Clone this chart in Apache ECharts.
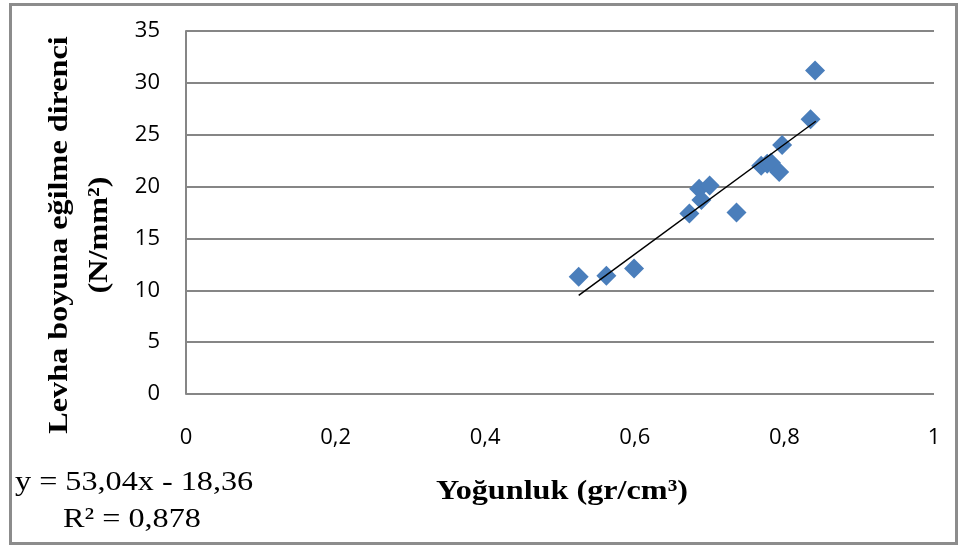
<!DOCTYPE html>
<html>
<head>
<meta charset="utf-8">
<script src="https://cdn.jsdelivr.net/npm/echarts@6/dist/echarts.min.js"></script>
<style>
  html, body { margin: 0; padding: 0; background: #fff; }
  #chart { width: 961px; height: 545px; }
</style>
</head>
<body>
<div id="chart"></div>
<script>
// veri: yoğunluk (gr/cm³) ve levha boyuna eğilme direnci (N/mm²)
const density = [0.525, 0.562, 0.599, 0.673, 0.686, 0.700, 0.689, 0.736, 0.769, 0.777, 0.782, 0.793, 0.797, 0.835, 0.841]
const strength = [11.3, 11.4, 12.1, 17.4, 19.8, 20.1, 18.7, 17.5, 22.0, 22.2, 22.3, 21.4, 24.0, 26.5, 31.2]

// trend çizgisi uç noktaları (y = 53,04x - 18,36)
const trendX = [0.525, 0.842]
const trendY = [9.5, 26.3]

const xTicks = ['0', '0,2', '0,4', '0,6', '0,8', '1']
const xTitle = 'Yoğunluk (gr/cm³)'
const yTitle = 'Levha boyuna eğilme direnci\n(N/mm²)'
const equationText = 'y = 53,04x - 18,36'
const r2Text = 'R² = 0,878'

const serif = '"Liberation Serif", "DejaVu Serif", serif'
const sans = '"Open Sans", "Noto Sans", sans-serif'
// referanstaki yazılar yatayda biraz gerilmiş
const stretch = 1.15

const chart = echarts.init(document.getElementById('chart'))

chart.setOption({
  animation: false,
  grid: { left: 186, right: 27, top: 31, bottom: 151 },
  xAxis: {
    type: 'value', min: 0, max: 1, interval: 0.2,
    axisLine: { show: false },
    axisTick: { show: false },
    splitLine: { show: false },
    axisLabel: {
      margin: 33, color: '#000', fontSize: 22, fontFamily: sans,
      formatter: v => xTicks[Math.round(v / 0.2)]
    }
  },
  yAxis: {
    type: 'value', min: 0, max: 35, interval: 5,
    axisLine: { show: true, lineStyle: { color: '#868686', width: 2 } },
    axisTick: { show: false },
    splitLine: { show: true, lineStyle: { color: '#868686', width: 2 } },
    axisLabel: { margin: 26, color: '#000', fontSize: 22, fontFamily: sans }
  },
  graphic: [
    {
      type: 'rect', left: 8, top: 2, silent: true,
      shape: { width: 946, height: 539 },
      style: { fill: 'none', stroke: '#8c8c8c', lineWidth: 3 }
    },
    {
      type: 'text', x: 80, y: 235, rotation: Math.PI / 2, scaleX: stretch,
      style: {
        text: yTitle, font: 'bold 28px ' + serif, fill: '#000',
        align: 'center', verticalAlign: 'middle', lineHeight: 40
      }
    },
    {
      type: 'text', x: 562, y: 492, scaleX: stretch,
      style: { text: xTitle, font: 'bold 28px ' + serif, fill: '#000', align: 'center', verticalAlign: 'middle' }
    },
    {
      type: 'text', x: 15, y: 483, scaleX: stretch,
      style: { text: equationText, font: '28px ' + serif, fill: '#000', verticalAlign: 'middle' }
    },
    {
      type: 'text', x: 63, y: 520, scaleX: stretch,
      style: { text: r2Text, font: '28px ' + serif, fill: '#000', verticalAlign: 'middle' }
    }
  ],
  series: [
    {
      type: 'line',
      data: trendX.map((x, i) => [x, trendY[i]]),
      symbol: 'none',
      lineStyle: { color: '#000', width: 1.5 },
      z: 3
    },
    {
      type: 'scatter',
      data: density.map((x, i) => [x, strength[i]]),
      symbol: 'diamond',
      symbolSize: 20,
      itemStyle: { color: '#4a7ebb', opacity: 1 },
      z: 2
    }
  ]
})
</script>
</body>
</html>
